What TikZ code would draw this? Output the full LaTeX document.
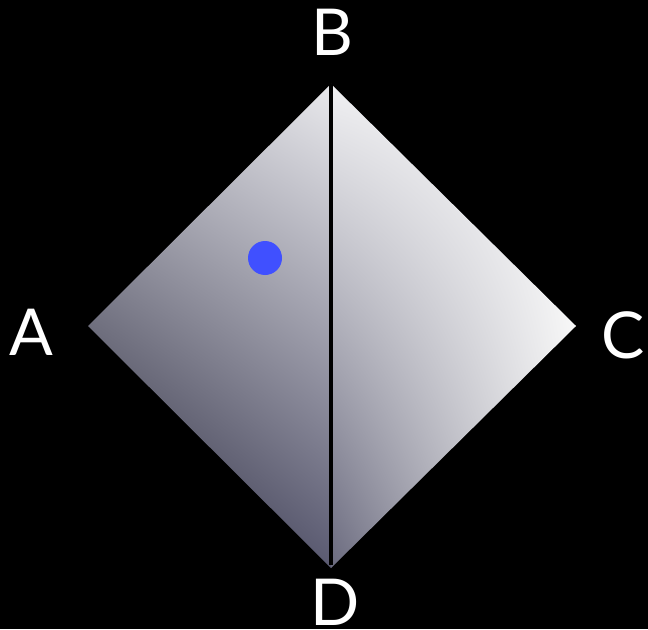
\documentclass[tikz,border=0pt]{standalone}
\usepackage{fontspec}
\setmainfont{Lato}
\usepackage{tikz}
\usetikzlibrary{positioning, shadings}
\usepackage{xcolor}

\definecolor{dotblue}{HTML}{4050FF}
\definecolor{topface}{HTML}{E9E9EC}
\definecolor{lightface}{HTML}{F0F0F2}
\definecolor{darkface}{HTML}{5B5B72}
\definecolor{leftupper}{HTML}{BEBEC8}
\definecolor{leftlower}{HTML}{1E1E32}
\definecolor{rightlower}{HTML}{6A6A7E}
\definecolor{rightcorner}{HTML}{F0F0F0}

\tikzset{
    vertexlabel/.style={text=white, font=\fontsize{46}{46}\selectfont, inner sep=0pt}
}

\begin{document}
\begin{tikzpicture}[x=0.025cm, y=-0.025cm]
    % Background
    \fill[black] (0,0) rectangle (648,629);
    \useasboundingbox (0,0) rectangle (648,629);

    % Corners of the square
    \coordinate (A) at (88,326);
    \coordinate (B) at (331,84);
    \coordinate (C) at (576,326);
    \coordinate (D) at (331,568);

    % Left half
    \shade[upper right=topface, upper left=leftupper,
           lower left=leftlower, lower right=darkface]
        (A) -- (B) -- (D) -- cycle;

    % Right half
    \shade[upper left=lightface, upper right=white,
           lower left=rightlower, lower right=rightcorner]
        (B) -- (C) -- (D) -- cycle;

    % Diagonal
    \draw[black, line width=3.5pt] (B) -- ([yshift=2]D);

    % Point
    \fill[dotblue] (265,258) circle (17);

    % Labels
    \node[vertexlabel] (labA) at (31,332) {A};
    \node[vertexlabel] (labB) at (332,32) {B};
    \node[vertexlabel] (labC) at (623,335) {C};
    \node[vertexlabel] (labD) at (335,602) {D};
\end{tikzpicture}
\end{document}
